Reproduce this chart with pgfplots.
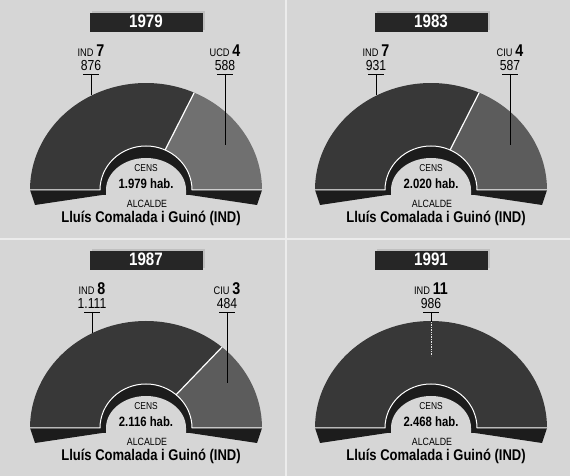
\documentclass[border=0pt]{standalone}
\usepackage{pgfplots}
\pgfplotsset{compat=1.18}
\usepackage{fontspec}
\newfontfamily\cf[FakeStretch=0.84]{Liberation Sans}
\definecolor{bg}{HTML}{D6D6D6}
\definecolor{indc}{HTML}{383838}
\definecolor{othA}{HTML}{707070}
\definecolor{othB}{HTML}{5C5C5C}
\definecolor{side}{HTML}{1C1C1C}
\definecolor{boxc}{HTML}{262626}

% seats: IND / other, total 11
\pgfmathsetmacro\thA{180-180*7/11}
\pgfmathsetmacro\thB{180-180*7/11}
\pgfmathsetmacro\thC{180-180*8/11}
\pgfmathsetmacro\thD{180-180*11/11}

\newcommand{\donut}[2]{%
\begin{scope}[shift={(axis cs:146,-190)}]
 \fill[side] (-116pt,0pt) -- (-44pt,0pt) -- (-44pt,-5pt) -- (-111pt,-15pt) -- cycle;
 \fill[side] (116pt,0pt) -- (44pt,0pt) -- (44pt,-5pt) -- (111pt,-15pt) -- cycle;
 \fill[indc] (180:116pt and 107pt) arc[start angle=180,end angle=#1,x radius=116pt,y radius=107pt] -- (#1:46pt and 44pt) arc[start angle=#1,end angle=180,x radius=46pt,y radius=44pt] -- cycle;
 \fill[#2] (#1:116pt and 107pt) arc[start angle=#1,end angle=0,x radius=116pt,y radius=107pt] -- (0:46pt and 44pt) arc[start angle=0,end angle=#1,x radius=46pt,y radius=44pt] -- cycle;
 \fill[side] (-46pt,0pt) arc[start angle=180,end angle=0,x radius=46pt,y radius=44pt] -- (44pt,-5pt) -- (-44pt,-5pt) -- cycle;
 \fill[bg] (-40pt,-10pt) -- (-40pt,0pt) arc[start angle=180,end angle=0,x radius=40pt,y radius=32pt] -- (40pt,-10pt) -- cycle;
 \draw[white,line width=1pt] (-116pt,0pt) -- (-46pt,0pt) arc[start angle=180,end angle=0,x radius=46pt,y radius=44pt] -- (116pt,0pt);
\end{scope}}

\newcommand{\sep}[1]{%
\begin{scope}[shift={(axis cs:146,-190)}]
 \draw[white,line width=1.2pt] (#1:46pt and 44pt) -- (#1:116pt and 107pt);
\end{scope}}

\newcommand{\common}[2]{%
 \fill[gray!50] (axis cs:92,-11) rectangle (axis cs:205,-30);
 \fill[boxc] (axis cs:90,-13) rectangle (axis cs:203,-32);
 \node[anchor=base, text=white, font=\cf\bfseries\fontsize{18}{18}\selectfont] at (axis cs:146,-28) {#2};
 \node[anchor=base, font=\cf\fontsize{10}{10}\selectfont] at (axis cs:146,-172) {CENS};
 \node[anchor=base, font=\cf\bfseries\fontsize{13.5}{14}\selectfont] at (axis cs:146,-189) {#1 hab.};
 \node[anchor=base, font=\cf\fontsize{10.5}{11}\selectfont] at (axis cs:147,-208) {ALCALDE};
 \node[anchor=base, font=\cf\bfseries\fontsize{15.5}{16}\selectfont] at (axis cs:151,-223) {Lluís Comalada i Guinó (IND)};
}

\newcommand{\lab}[5]{%
 \node[anchor=base, font=\cf\fontsize{17}{17}\selectfont] at (axis cs:#1,-57) {{\fontsize{11}{11}\selectfont #2}\,\textbf{#3}};
 \node[anchor=base, font=\cf\fontsize{14.5}{15}\selectfont] at (axis cs:#1,-71) {#4};
 \draw[line width=0.8pt] (axis cs:{#1-8},-74) -- (axis cs:{#1+8},-74);
 \draw[line width=0.8pt] (axis cs:#1,-74) -- (axis cs:#1,-#5);
}

\pgfplotsset{panel/.style={x=1pt,y=1pt,xmin=0,xmax=285,ymin=-238,ymax=0,hide axis,clip=false,scale only axis,anchor=south west}}

\begin{document}
\begin{tikzpicture}
\useasboundingbox (0,0) rectangle (570pt,476pt);
\fill[bg] (0,0) rectangle (570pt,476pt);

\begin{axis}[panel, at={(0pt,238pt)}]
\addplot[draw=none] coordinates {(0,0)};
\donut{\thA}{othA}
\sep{\thA}
\common{1.979}{1979}
\lab{91}{IND}{7}{876}{95}
\lab{225}{UCD}{4}{588}{145}
\end{axis}

\begin{axis}[panel, at={(285pt,238pt)}]
\addplot[draw=none] coordinates {(0,0)};
\donut{\thB}{othB}
\sep{\thB}
\common{2.020}{1983}
\lab{91}{IND}{7}{931}{95}
\lab{225}{CIU}{4}{587}{145}
\end{axis}

\begin{axis}[panel, at={(0pt,0pt)}]
\addplot[draw=none] coordinates {(0,0)};
\donut{\thC}{othB}
\sep{\thC}
\common{2.116}{1987}
\lab{92}{IND}{8}{1.111}{95}
\lab{227}{CIU}{3}{484}{145}
\end{axis}

\begin{axis}[panel, at={(285pt,0pt)}]
\addplot[draw=none] coordinates {(0,0)};
\donut{\thD}{othB}
\common{2.468}{1991}
\lab{146}{IND}{11}{986}{84}
\draw[white!80!gray, densely dotted, line width=0.7pt] (axis cs:146,-84) -- (axis cs:146,-118);
\end{axis}

\draw[white!85!gray, line width=1.5pt] (286pt,0) -- (286pt,476pt);
\draw[white!85!gray, line width=1.5pt] (0,237pt) -- (570pt,237pt);
\end{tikzpicture}
\end{document}
